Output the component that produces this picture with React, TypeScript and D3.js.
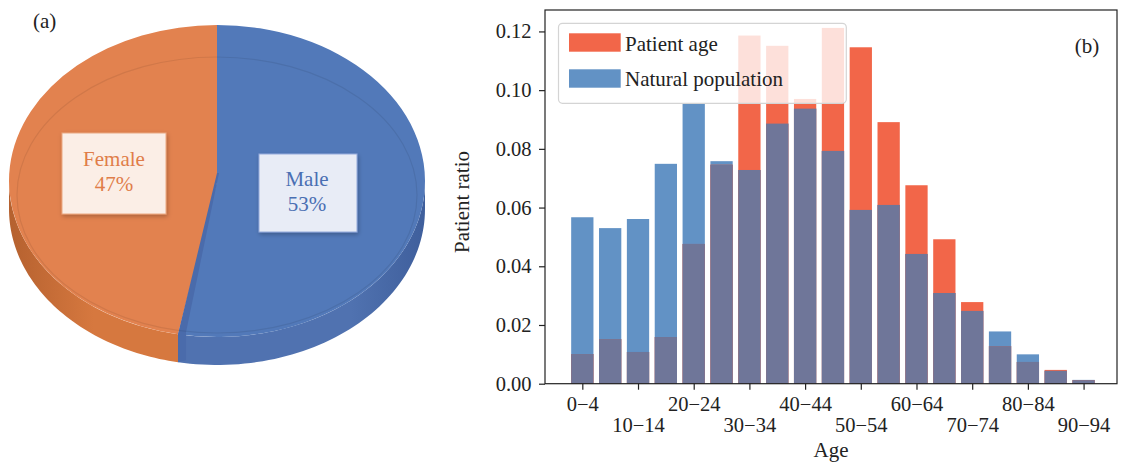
import { useEffect, useRef } from 'react';
import * as d3 from 'd3';

// ---- data ----
const ageGroups = ['0−4', '5−9', '10−14', '15−19', '20−24', '25−29', '30−34', '35−39', '40−44', '45−49',
  '50−54', '55−59', '60−64', '65−69', '70−74', '75−79', '80−84', '85−89', '90−94'];
const patientAge = [0.0101, 0.0152, 0.0108, 0.0159, 0.0476, 0.0746, 0.1186, 0.1151, 0.0970, 0.1212,
  0.1146, 0.0891, 0.0676, 0.0492, 0.0278, 0.0128, 0.0074, 0.0047, 0.0012];
const naturalPopulation = [0.0567, 0.0530, 0.0561, 0.0749, 0.0953, 0.0758, 0.0728, 0.0886, 0.0937, 0.0793,
  0.0592, 0.0609, 0.0442, 0.0309, 0.0248, 0.0178, 0.0100, 0.0044, 0.0013];
const yTicks = [0, 0.02, 0.04, 0.06, 0.08, 0.10, 0.12];
const genders = ['Male', 'Female'];
const genderShare = [53, 47];

const FONT = '"Liberation Serif", "DejaVu Serif", serif';
const W = 1121, H = 466;

const ORANGE = '#f26649';
const BLUE = '#6292c5';
const OVERLAP = '#6f7699';

// bar panel geometry
const plot = { left: 545, right: 1117, top: 10, bottom: 383.7 };

// pie geometry
const pie3d = { cx: 217, cy: 181, rx: 208, ry: 156, depth: 28 };
const pieColors = { Male: '#5279b9', Female: '#e2824f' };
const sideColors = { Male: ['#3f5f9c', '#5072b0'], Female: ['#b5612f', '#d6783f'] };

function ellPt(a: number, dy = 0): [number, number] {
  return [pie3d.cx + pie3d.rx * Math.sin(a), pie3d.cy - pie3d.ry * Math.cos(a) + dy];
}

function sidePath(a0: number, a1: number) {
  const lo = Math.max(a0, Math.PI / 2);
  const hi = Math.min(a1, (3 * Math.PI) / 2);
  if (hi <= lo) return '';
  const steps = 60;
  const top = d3.range(steps + 1).map((k) => ellPt(lo + ((hi - lo) * k) / steps));
  const bot = top.map(([px, py]) => [px, py + pie3d.depth] as [number, number]).reverse();
  return d3.line()([...top, ...bot]) + 'Z';
}

export default function App() {
  const xAxisRef = useRef<SVGGElement>(null);
  const yAxisRef = useRef<SVGGElement>(null);

  const x = d3.scaleLinear().domain([-1.34, 19.2]).range([plot.left, plot.right]);
  const y = d3.scaleLinear().domain([0, 0.1273]).range([plot.bottom, plot.top]);
  const half = 0.4;

  const slices = d3.pie<number>().sort(null).startAngle(0).endAngle(2 * Math.PI)(genderShare);
  const arc = d3.arc<d3.PieArcDatum<number>>().innerRadius(0).outerRadius(pie3d.rx);
  const k = pie3d.ry / pie3d.rx;
  const maleEnd = slices[0].endAngle;
  const [ex, ey] = ellPt(maleEnd);

  useEffect(() => {
    const gx = d3.select(xAxisRef.current);
    gx.selectAll('*').remove();
    gx.call(
      d3.axisBottom(x)
        .tickValues(d3.range(0, ageGroups.length, 2))
        .tickSize(6)
        .tickFormat((i) => ageGroups[i as number])
    );
    gx.attr('font-family', FONT).attr('font-size', 20.5);
    gx.select('.domain').remove();
    gx.selectAll('.tick line').attr('stroke', '#222').attr('stroke-width', 1.2);
    gx.selectAll('.tick text')
      .attr('fill', '#222')
      .attr('dy', 0)
      .attr('y', (_d, i) => (i % 2 === 0 ? 27.3 : 48));

    const gy = d3.select(yAxisRef.current);
    gy.selectAll('*').remove();
    gy.call(d3.axisLeft(y).tickValues(yTicks).tickSize(6).tickPadding(7.5).tickFormat(d3.format('.2f')));
    gy.attr('font-family', FONT).attr('font-size', 20.5);
    gy.select('.domain').remove();
    gy.selectAll('.tick line').attr('stroke', '#222').attr('stroke-width', 1.2);
    gy.selectAll('.tick text').attr('fill', '#222');
  }, []);

  return (
    <div style={{ position: 'fixed', left: 0, top: 0, background: '#fff' }}>
      <svg width={W} height={H} style={{ display: 'block' }}>
        <defs>
          <linearGradient id="sideMale" x1="0" x2="1" y1="0" y2="0">
            <stop offset="0" stopColor={sideColors.Male[1]} />
            <stop offset="0.7" stopColor={sideColors.Male[1]} />
            <stop offset="1" stopColor={sideColors.Male[0]} />
          </linearGradient>
          <linearGradient id="sideFemale" x1="0" x2="1" y1="0" y2="0">
            <stop offset="0" stopColor={sideColors.Female[0]} />
            <stop offset="0.5" stopColor={sideColors.Female[1]} />
            <stop offset="1" stopColor={sideColors.Female[1]} />
          </linearGradient>
          <filter id="boxShadow" x="-20%" y="-20%" width="140%" height="140%">
            <feDropShadow dx="1" dy="2" stdDeviation="2" floodColor="#000" floodOpacity="0.25" />
          </filter>
        </defs>

        {/* (a) pie */}
        <text x={33} y={28} fontFamily={FONT} fontSize={21} fill="#222">(a)</text>
        {slices.map((s, i) => (
          <path key={'side' + i} d={sidePath(s.startAngle, s.endAngle)}
            fill={`url(#side${genders[i]})`} />
        ))}
        <g transform={`translate(${pie3d.cx},${pie3d.cy}) scale(1,${k})`}>
          {slices.map((s, i) => (
            <path key={'top' + i} d={arc(s) ?? ''} fill={pieColors[genders[i] as 'Male' | 'Female']} />
          ))}
        </g>
        {/* exposed wall of the male slice along the cut */}
        <path d={d3.line()([[pie3d.cx, pie3d.cy - 8], [ex, ey], [ex, ey + pie3d.depth],
          [ex + 8, ey + pie3d.depth - 2], [ex + 8, ey - 2], [pie3d.cx + 2, pie3d.cy - 8]]) + 'Z'}
          fill="#4a6bab" />
        <ellipse cx={pie3d.cx} cy={pie3d.cy + 14} rx={pie3d.rx - 8} ry={pie3d.ry - 18}
          fill="none" stroke="#000" strokeOpacity={0.08} strokeWidth={1.2} />

        <g filter="url(#boxShadow)">
          <rect x={62} y={133} width={104} height={81} fill="#fbeee6" stroke="#eaa882" strokeWidth={1} />
          <rect x={259} y={154} width={98} height={78} fill="#e8ecf6" stroke="#93aadb" strokeWidth={1} />
        </g>
        <text x={114} y={166} textAnchor="middle" fontFamily={FONT} fontSize={21} fill="#e07d49">{genders[1]}</text>
        <text x={114} y={191} textAnchor="middle" fontFamily={FONT} fontSize={21} fill="#e07d49">{genderShare[1]}%</text>
        <text x={307} y={186} textAnchor="middle" fontFamily={FONT} fontSize={21} fill="#4a6fb3">{genders[0]}</text>
        <text x={307} y={211} textAnchor="middle" fontFamily={FONT} fontSize={21} fill="#4a6fb3">{genderShare[0]}%</text>

        {/* (b) bars */}
        {naturalPopulation.map((v, i) => (
          <rect key={'n' + i} x={x(i - half)} width={x(i + half) - x(i - half)} y={y(v)} height={y(0) - y(v)} fill={BLUE} />
        ))}
        {patientAge.map((v, i) => (
          <rect key={'p' + i} x={x(i - half)} width={x(i + half) - x(i - half)} y={y(v)} height={y(0) - y(v)} fill={ORANGE} />
        ))}
        {patientAge.map((v, i) => {
          const m = Math.min(v, naturalPopulation[i]);
          return <rect key={'o' + i} x={x(i - half)} width={x(i + half) - x(i - half)} y={y(m)} height={y(0) - y(m)} fill={OVERLAP} />;
        })}

        {/* legend */}
        <rect x={558.5} y={23.3} width={287.8} height={80} rx={4} fill="#fff" fillOpacity={0.8} stroke="#d4d4d4" strokeWidth={1.2} />
        <rect x={569} y={33.3} width={51.7} height={18.4} fill={ORANGE} />
        <rect x={569} y={69.3} width={51.7} height={18.4} fill={BLUE} />
        <text x={625} y={50.5} fontFamily={FONT} fontSize={21} fill="#222">Patient age</text>
        <text x={625} y={86} fontFamily={FONT} fontSize={21} fill="#222">Natural population</text>

        <text x={1087} y={53} textAnchor="middle" fontFamily={FONT} fontSize={21} fill="#222">(b)</text>

        <rect x={plot.left} y={plot.top} width={plot.right - plot.left} height={plot.bottom - plot.top}
          fill="none" stroke="#222" strokeWidth={1.2} />
        <g ref={xAxisRef} transform={`translate(0,${plot.bottom})`} />
        <g ref={yAxisRef} transform={`translate(${plot.left},0)`} />

        <text x={831} y={457} textAnchor="middle" fontFamily={FONT} fontSize={21} fill="#222">Age</text>
        <text transform={`translate(469,202) rotate(-90)`} textAnchor="middle" fontFamily={FONT} fontSize={21} fill="#222">Patient ratio</text>
      </svg>
    </div>
  );
}
